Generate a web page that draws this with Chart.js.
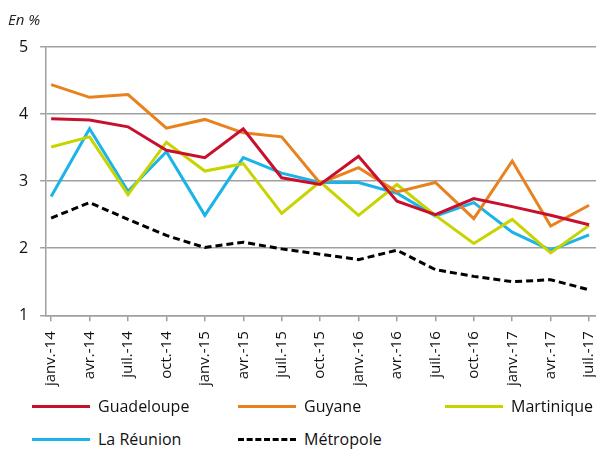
<!DOCTYPE html>
<html>
<head>
<meta charset="utf-8">
<script src="https://cdn.jsdelivr.net/npm/chart.js@4/dist/chart.umd.min.js"></script>
<style>
  body { margin: 0; background: #fff; font-family: "Open Sans", sans-serif; }
  #wrap { position: relative; width: 596px; height: 450px; }
  #unit { position: absolute; left: 8px; top: 9px; font-size: 15px; font-style: italic; color: #222; }
  #chart { position: absolute; left: 0; top: 0; }
  .leg { position: absolute; font-size: 16px; color: #111; display: flex; align-items: center; }
  .leg span.line { display: inline-block; width: 58px; margin-right: 8px; border-top: 3px solid; }
</style>
</head>
<body>
<div id="wrap">
  <canvas id="chart" width="596" height="396"></canvas>
  <div id="unit">En %</div>
  <div id="legend"></div>
</div>
<script>
const labels = ['janv.-14','avr.-14','juil.-14','oct.-14','janv.-15','avr.-15','juil.-15','oct.-15',
                'janv.-16','avr.-16','juil.-16','oct.-16','janv.-17','avr.-17','juil.-17'];
const guadeloupe = [3.93, 3.91, 3.81, 3.46, 3.35, 3.78, 3.05, 2.95, 3.37, 2.70, 2.50, 2.74, 2.62, 2.49, 2.35];
const guyane     = [4.44, 4.25, 4.29, 3.79, 3.92, 3.72, 3.66, 2.97, 3.20, 2.84, 2.98, 2.44, 3.30, 2.33, 2.64];
const martinique = [3.51, 3.66, 2.80, 3.58, 3.15, 3.26, 2.52, 2.99, 2.49, 2.95, 2.49, 2.07, 2.43, 1.93, 2.34];
const reunion    = [2.77, 3.78, 2.85, 3.44, 2.49, 3.35, 3.12, 2.98, 2.98, 2.82, 2.48, 2.68, 2.24, 1.97, 2.20];
const metropole  = [2.45, 2.68, 2.43, 2.19, 2.01, 2.09, 1.99, 1.91, 1.83, 1.97, 1.68, 1.58, 1.50, 1.53, 1.38];
const yTicks = [1, 2, 3, 4, 5];

const series = [
  {name: 'Guadeloupe', values: guadeloupe, color: '#c8102e', dash: []},
  {name: 'Guyane', values: guyane, color: '#e8821e', dash: []},
  {name: 'Martinique', values: martinique, color: '#c8d400', dash: []},
  {name: 'La Réunion', values: reunion, color: '#1ab4e8', dash: []},
  {name: 'Métropole', values: metropole, color: '#000000', dash: [7, 4]}
];

function toPoints(values) {
  return values.map((v, i) => ({x: i, y: v}));
}

const ctx = document.getElementById('chart').getContext('2d');
const myChart = new Chart(ctx, {
  type: 'line',
  data: {
    datasets: series.map(s => ({
      label: s.name,
      data: toPoints(s.values),
      borderColor: s.color,
      backgroundColor: s.color,
      borderWidth: 3,
      borderDash: s.dash,
      pointRadius: 0,
      fill: false,
      tension: 0
    }))
  },
  options: {
    responsive: false,
    animation: false,
    layout: {padding: {top: 47, right: 0, left: 7, bottom: 0}},
    plugins: {legend: {display: false}, tooltip: {enabled: false}},
    scales: {
      x: {
        type: 'linear',
        min: -0.13,
        max: 14.18,
        afterBuildTicks: axis => { axis.ticks = labels.map((l, i) => ({value: i})); },
        afterFit: axis => { axis.paddingRight = 0; axis.paddingLeft = 0; },
        ticks: {
          autoSkip: false,
          minRotation: 90,
          maxRotation: 90,
          padding: 10,
          color: '#111',
          font: {family: 'Open Sans', size: 15},
          callback: v => labels[v]
        },
        grid: {display: true, drawOnChartArea: false, color: '#a0a0a0', lineWidth: 1.5, tickLength: 6},
        border: {color: '#a0a0a0', width: 1.5}
      },
      y: {
        min: 1,
        max: 5,
        afterBuildTicks: axis => { axis.ticks = yTicks.map(v => ({value: v})); },
        ticks: {
          padding: 12,
          color: '#111',
          font: {family: 'Open Sans', size: 16}
        },
        grid: {color: '#a0a0a0', lineWidth: 1.5, tickLength: 6},
        border: {color: '#a0a0a0', width: 1.5}
      }
    }
  }
});

// legend in three columns under the chart
const legendPos = [[32, 395], [238, 395], [445, 395], [32, 428], [238, 428]];
const legend = document.getElementById('legend');
series.forEach((s, i) => {
  const item = document.createElement('div');
  item.className = 'leg';
  item.style.left = legendPos[i][0] + 'px';
  item.style.top = legendPos[i][1] + 'px';
  const line = document.createElement('span');
  line.className = 'line';
  line.style.borderTopColor = s.color;
  if (s.dash.length) line.style.borderTopStyle = 'dashed';
  item.appendChild(line);
  item.appendChild(document.createTextNode(s.name));
  legend.appendChild(item);
});
</script>
</body>
</html>
